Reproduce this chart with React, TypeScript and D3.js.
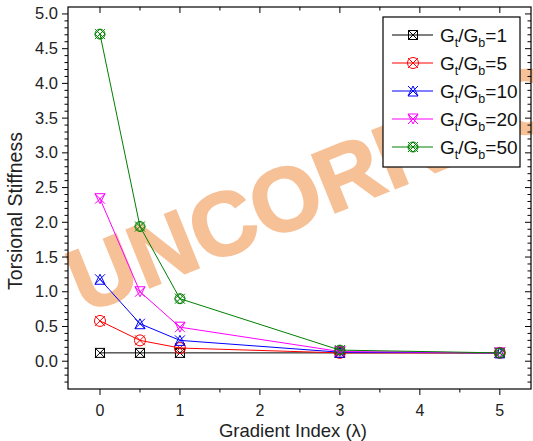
import React from "react";
import * as d3 from "d3";

const xValues = [0, 0.5, 1, 3, 5];
const seriesNames = ["1", "5", "10", "20", "50"];
const s1 = [0.12, 0.12, 0.12, 0.12, 0.12];
const s5 = [0.58, 0.3, 0.19, 0.12, 0.12];
const s10 = [1.18, 0.54, 0.3, 0.13, 0.12];
const s20 = [2.34, 1.0, 0.49, 0.14, 0.12];
const s50 = [4.71, 1.94, 0.9, 0.16, 0.12];
const xTickLabels = [0, 1, 2, 3, 4, 5];
const yTickLabels = [0, 0.5, 1, 1.5, 2, 2.5, 3, 3.5, 4, 4.5, 5];
const colors = ["#000000", "#ff0000", "#0000ff", "#ff00ff", "#008000"];

const W = 533, H = 441;
const L = 68, R = 531, T = 7, B = 389;

function Marker({ kind, color, x, y }: { kind: number; color: string; x: number; y: number }) {
  const s = 5;
  const X = `M${-s},${-s}L${s},${s}M${-s},${s}L${s},${-s}`;
  let extra: React.ReactNode = null;
  if (kind === 0) extra = <rect x={-s + 0.5} y={-s + 0.5} width={2 * s - 1} height={2 * s - 1} />;
  else if (kind === 1) extra = <circle r={s + 0.5} />;
  else if (kind === 2) extra = <path d={`M0,${-s}L${s},${s}L${-s},${s}Z`} />;
  else if (kind === 3) extra = <path d={`M${-s},${-s}L${s},${-s}L0,${s}Z`} />;
  else extra = <><circle r={s} /><path d={`M0,${-s}L${s},0L0,${s}L${-s},0Z`} /></>;
  return (
    <g transform={`translate(${x},${y})`} fill="none" stroke={color} strokeWidth={1}>
      <path d={X} />
      {extra}
    </g>
  );
}

export default function App() {
  const x = d3.scaleLinear().domain([-0.4, 5.39]).range([L, R]);
  const y = d3.scaleLinear().domain([-0.4, 5.1]).range([B, T]);
  const all = [s1, s5, s10, s20, s50];
  const line = d3.line<number>().x((_, i) => x(xValues[i])).y((d) => y(d));
  const xMinor = d3.range(0, 5.01, 0.5);
  const yMinor = d3.range(-0.3, 5.05, 0.1).map((v) => Math.round(v * 10) / 10);
  const font = "Liberation Sans, Arial, sans-serif";
  const legY = [35, 63, 91, 119, 147];

  return (
    <svg width={W} height={H} style={{ position: "absolute", left: 0, top: 0 }} fontFamily={font}>
      <rect width={W} height={H} fill="#fff" />
      {/* watermark */}
      <text
        transform="translate(84,314) rotate(-22)"
        fontSize={90}
        fontWeight="bold"
        fill="#f4a060"
        opacity={0.65}
        fontFamily={font}
        stroke="#f4a060"
        strokeWidth={2}
      >
        UNCORRECTED
      </text>
      {/* frame */}
      <rect x={L} y={T} width={R - L} height={B - T} fill="none" stroke="#000" strokeWidth={1.2} />
      {/* x ticks */}
      {xMinor.map((v) => {
        const major = Math.abs(v - Math.round(v)) < 1e-6;
        const len = major ? 6 : 3.5;
        return (
          <g key={"xt" + v} stroke="#000" strokeWidth={1}>
            <line x1={x(v)} x2={x(v)} y1={B} y2={B + len} />
            <line x1={x(v)} x2={x(v)} y1={T} y2={T + len} />
          </g>
        );
      })}
      {xTickLabels.map((v) => (
        <text key={"xl" + v} x={x(v)} y={415.5} fontSize={16} textAnchor="middle" fill="#222">
          {v}
        </text>
      ))}
      {/* y ticks */}
      {yMinor.map((v) => {
        const major = Math.abs(v * 2 - Math.round(v * 2)) < 1e-6;
        const len = major ? 6 : 3.5;
        return (
          <g key={"yt" + v} stroke="#000" strokeWidth={1}>
            <line x1={L - len} x2={L} y1={y(v)} y2={y(v)} />
            <line x1={R - len} x2={R} y1={y(v)} y2={y(v)} />
          </g>
        );
      })}
      {yTickLabels.map((v) => (
        <text key={"yl" + v} x={58} y={y(v) + 5.5} fontSize={16.5} textAnchor="end" fill="#222">
          {v.toFixed(1)}
        </text>
      ))}
      <text x={293} y={436.5} fontSize={18.5} textAnchor="middle" fill="#222">
        Gradient Index (λ)
      </text>
      <text transform="translate(22,211) rotate(-90)" fontSize={19.5} textAnchor="middle" fill="#222">
        Torsional Stiffness
      </text>
      {/* series */}
      {all.map((s, k) => (
        <g key={"s" + k}>
          <path d={line(s) || ""} fill="none" stroke={colors[k]} strokeWidth={1} />
          {s.map((v, i) => (
            <Marker key={i} kind={k} color={colors[k]} x={x(xValues[i])} y={y(v)} />
          ))}
        </g>
      ))}
      {/* legend */}
      <rect x={383} y={17} width={137} height={150} fill="#fff" stroke="#000" strokeWidth={1.2} />
      {seriesNames.map((n, k) => (
        <g key={"lg" + k}>
          <line x1={392} x2={433} y1={legY[k]} y2={legY[k]} stroke={colors[k]} strokeWidth={1} />
          <Marker kind={k} color={colors[k]} x={413} y={legY[k]} />
          <text x={440} y={legY[k] + 6.5} fontSize={19} fill="#111">
            G<tspan fontSize={12.5} dy={5}>t</tspan>
            <tspan dy={-5}>/G</tspan>
            <tspan fontSize={12.5} dy={5}>b</tspan>
            <tspan dy={-5}>={n}</tspan>
          </text>
        </g>
      ))}
    </svg>
  );
}
